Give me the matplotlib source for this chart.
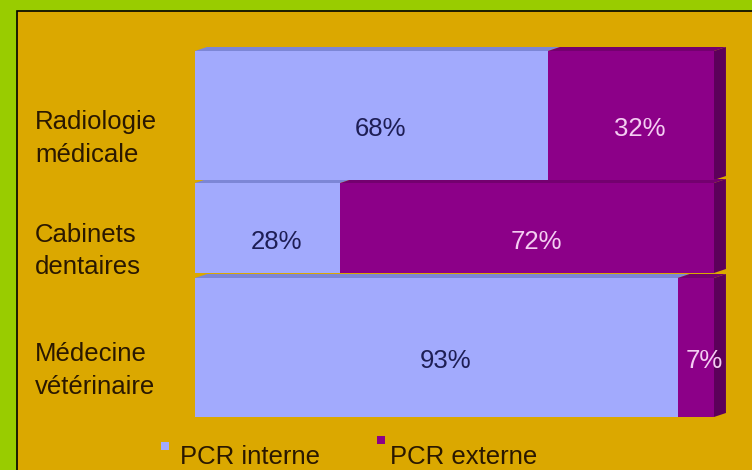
import matplotlib
matplotlib.use("Agg")
import matplotlib.pyplot as plt
from matplotlib.patches import Rectangle, Polygon
import matplotlib.transforms as mtransforms

categories = ["Radiologie\nmédicale", "Cabinets\ndentaires", "Médecine\nvétérinaire"]
pcr_interne = [68, 28, 93]
pcr_externe = [32, 72, 7]
series_names = ["PCR interne", "PCR externe"]

# layout (vertical band of each bar, in pixel rows of the axes)
bar_top = [51, 183, 278]
bar_bot = [180, 273, 417]

BLUE = "#A2AAFD"
BLUE_TOP = "#7C86D6"
PURPLE = "#8C0088"
PURPLE_TOP = "#74006F"
PURPLE_SIDE = "#5C005A"
GOLD = "#DBA800"
GREEN = "#99CC00"
TXT = "#2A1800"
FS = 18.5
W, H = 752, 470

fig = plt.figure(figsize=(7.52, 4.70), dpi=100)
fig.patch.set_facecolor(GREEN)
fig.patches.append(Rectangle((17/W, -0.05), 1.1, 1 - 11/H + 0.05, transform=fig.transFigure,
                             facecolor=GOLD, edgecolor="black", linewidth=1.2, zorder=-5))

y0, y1 = 47, 417
ax = fig.add_axes([195/W, 1 - y1/H, (714-195)/W, (y1-y0)/H])
ax.set_facecolor("none")
for s in ax.spines.values():
    s.set_visible(False)
ax.set_xticks([])
ax.set_yticks([])
ax.set_xlim(0, 100)
ax.set_ylim(y1, y0)

dx = 2.3   # depth (x data units)
dy = 4     # depth (pixels, y axis inverted)

for t, b_, a, b in zip(bar_top, bar_bot, pcr_interne, pcr_externe):
    ax.add_patch(Polygon([(0, t), (a, t), (a+dx, t-dy), (dx, t-dy)],
                         closed=True, facecolor=BLUE_TOP, edgecolor="none", clip_on=False, zorder=1))
    ax.add_patch(Polygon([(a, t), (a+b, t), (a+b+dx, t-dy), (a+dx, t-dy)],
                         closed=True, facecolor=PURPLE_TOP, edgecolor="none", clip_on=False, zorder=1))
    ax.add_patch(Polygon([(a+b, b_), (a+b, t), (a+b+dx, t-dy), (a+b+dx, b_-dy)],
                         closed=True, facecolor=PURPLE_SIDE, edgecolor="none", clip_on=False, zorder=1))

centers = [(t + b_) / 2 for t, b_ in zip(bar_top, bar_bot)]
heights = [b_ - t for t, b_ in zip(bar_top, bar_bot)]
ax.barh(centers, pcr_interne, height=heights, color=BLUE, zorder=2)
ax.barh(centers, pcr_externe, left=pcr_interne, height=heights, color=PURPLE, zorder=2)

lx = 1.7
for c, a, b in zip(centers, pcr_interne, pcr_externe):
    ax.text(a/2 + lx, c + 14, f"{a}%", ha="center", va="center", fontsize=FS,
            color="#1E1E55", family="Liberation Sans", zorder=3)
    ax.text(a + b/2 + lx, c + 14, f"{b}%", ha="center", va="center", fontsize=FS,
            color="#F4CDF2", family="Liberation Sans", zorder=3, clip_on=False)

trans = mtransforms.blended_transform_factory(fig.transFigure, ax.transData)
for c, lab in zip(centers, categories):
    ax.text(35/W, c + 23, lab, transform=trans, ha="left", va="center", fontsize=FS,
            color=TXT, family="Liberation Sans", linespacing=1.45)

# legend
leg_marker_x = [165, 381]
leg_marker_y = [446, 440]
leg_text_x = [180, 390]
for mx, my, tx, name, col in zip(leg_marker_x, leg_marker_y, leg_text_x, series_names, [BLUE, PURPLE]):
    fig.patches.append(Rectangle(((mx-4)/W, 1 - (my+4)/H), 8/W, 8/H, transform=fig.transFigure,
                                 facecolor=col, edgecolor="none"))
    fig.text(tx/W, 1 - 457/H, name, ha="left", va="center", fontsize=FS, color=TXT,
             family="Liberation Sans")

fig.savefig("out.png", dpi=100, facecolor=fig.get_facecolor())
